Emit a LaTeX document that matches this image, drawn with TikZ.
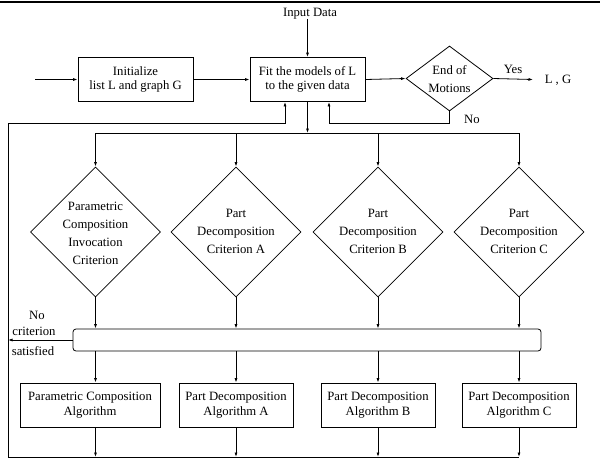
\documentclass[tikz,border=0pt]{standalone}
\usepackage{fontspec}
\setmainfont{Liberation Serif}
\usetikzlibrary{shapes.geometric,arrows.meta}
\begin{document}
\begin{tikzpicture}[x=1pt,y=-1pt, line width=0.8pt,
  >={Latex[length=4.5pt,width=3pt]},
  txt/.style={font=\fontsize{12.7}{14.6}\selectfont, align=center, inner sep=0pt},
  dtxt/.style={font=\fontsize{12.7}{18}\selectfont, align=center, inner sep=0pt},
  box/.style={draw, txt, minimum height=44pt},
  dia/.style={draw, diamond, inner sep=0pt, minimum width=130pt, minimum height=130pt}]
\useasboundingbox (0,0) rectangle (600,461);
\draw[line width=2.5pt] (0,2) -- (600,2);

% top row
\node[txt] (inp) at (310,14) {Input Data};
\node[box, minimum width=115pt] (init) at (135.5,79.5) {Initialize\\list L and graph G};
\node[box, minimum width=115pt] (fit) at (307.5,79.5) {Fit the models of L\\to the given data};
\node[draw, diamond, inner sep=0pt, minimum width=87pt, minimum height=65pt] (eom) at (449.5,78.5) {};
\node[dtxt] (eomt) at (449.5,79) {End of\\Motions};
\coordinate (start) at (35,79.5);
\coordinate (yesend) at (533,79.5);
\node[txt] (yes) at (513,69) {Yes};
\node[txt] (lg) at (558,80) {L , G};
\node[txt] (no) at (472,119) {No};

\draw[->] (start) -- (init.west);
\draw[->] (init.east) -- (fit.west);
\draw[->] (fit.north |- inp.south) ++(0,-1) -- (fit.north);
\draw[->] (fit.east) -- (eom.west);
\draw[->] (eom.east) -- (yesend);
\coordinate (noL) at (329,123);
\draw[->] (eom.south) |- (noL) -- (noL |- fit.south);

% criteria diamonds
\node[dia] (d1) at (95.5,232) {};
\node[dia] (d2) at (236,232) {};
\node[dia] (d3) at (378,232) {};
\node[dia] (d4) at (519,232) {};
\node[dtxt] (d1t) at (95.5,233) {Parametric\\Composition\\Invocation\\Criterion};
\node[dtxt] (d2t) at (236,231) {Part\\Decomposition\\Criterion A};
\node[dtxt] (d3t) at (378,231) {Part\\Decomposition\\Criterion B};
\node[dtxt] (d4t) at (519,231) {Part\\Decomposition\\Criterion C};

\coordinate (dist) at (307.5,133);
\draw[->] (fit.south) -- (dist);
\draw (d1.north |- dist) -- (d4.north |- dist);
\foreach \d in {d1,d2,d3,d4} \draw[->] (\d.north |- dist) -- (\d.north);

% bar
\node[draw, rounded corners=3pt, minimum width=468pt, minimum height=22pt, inner sep=0pt] (bar) at (307,340) {};
\foreach \d in {d1,d2,d3,d4} \draw[->] (\d.south) -- (\d.south |- bar.north);

% algorithm boxes
\node[box, minimum width=140pt] (a1) at (90,405) {Parametric Composition\\Algorithm};
\node[box, minimum width=114pt] (a2) at (236,405) {Part Decomposition\\Algorithm A};
\node[box, minimum width=114pt] (a3) at (378,405) {Part Decomposition\\Algorithm B};
\node[box, minimum width=114pt] (a4) at (519,405) {Part Decomposition\\Algorithm C};
\foreach \d/\a in {d1/a1,d2/a2,d3/a3,d4/a4} \draw[->] (\d.south |- bar.south) -- (\d.south |- \a.north);

% feedback loop
\coordinate (bl) at (8,457);
\coordinate (tl) at (8,123);
\coordinate (fb) at (285,123);
\draw[->] (bl) -- (tl) -- (fb) -- (fb |- fit.south);
\draw (bl) -- (d4.south |- bl);
\foreach \d/\a in {d1/a1,d2/a2,d3/a3,d4/a4} \draw[->] (\d.south |- \a.south) -- (\d.south |- bl);

\draw[->] (bar.west) -- (bar.west -| tl);
\node[txt] (nc1) at (37,315) {No};
\node[txt] (nc2) at (34,331) {criterion};
\node[txt] (nc3) at (33,351) {satisfied};
\end{tikzpicture}
\end{document}
